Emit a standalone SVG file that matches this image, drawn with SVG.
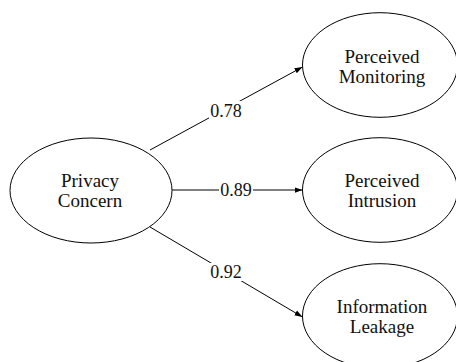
<svg xmlns="http://www.w3.org/2000/svg" width="456" height="362" viewBox="0 0 456 362">
<defs>
<style>
.node ellipse{fill:#fff;stroke:#000;stroke-width:1}
.node text{font-family:"Liberation Serif","Times New Roman",serif;font-size:19px;fill:#111;text-anchor:middle}
.edge line{stroke:#000;stroke-width:1;marker-end:url(#arrow)}
.lbl rect{fill:#fff}
.lbl text{font-family:"Liberation Serif","Times New Roman",serif;font-size:18px;fill:#111;text-anchor:middle}
</style>
<marker id="arrow" viewBox="0 0 10 10" refX="10" refY="5" markerWidth="8" markerHeight="8" markerUnits="userSpaceOnUse" orient="auto">
<path d="M0,1.5 L10,5 L0,8.5 z" fill="#000"/>
</marker>
</defs>
<rect width="456" height="362" fill="#fff"/>
<g id="connectors" class="edge">
<line x1="150" y1="150" x2="302.5" y2="67"/>
<line x1="171.5" y1="190" x2="302.5" y2="190"/>
<line x1="150" y1="227" x2="302.5" y2="317"/>
</g>
<g id="labels" class="lbl">
<rect x="209" y="101" width="34" height="18"/>
<text x="226" y="117">0.78</text>
<rect x="219" y="181" width="34" height="18"/>
<text x="236" y="196">0.89</text>
<rect x="209" y="263" width="34" height="18"/>
<text x="226" y="278">0.92</text>
</g>
<g id="privacy-concern" class="node">
<ellipse cx="91" cy="190.5" rx="81" ry="52.5"/>
<text x="90" y="187">Privacy</text>
<text x="90" y="207">Concern</text>
</g>
<g id="perceived-monitoring" class="node">
<ellipse cx="380" cy="65" rx="77.5" ry="52.3"/>
<text x="382" y="63">Perceived</text>
<text x="382" y="83">Monitoring</text>
</g>
<g id="perceived-intrusion" class="node">
<ellipse cx="380" cy="190" rx="77.5" ry="52.3"/>
<text x="382" y="187">Perceived</text>
<text x="382" y="207">Intrusion</text>
</g>
<g id="information-leakage" class="node">
<ellipse cx="380" cy="316" rx="77.5" ry="52.3"/>
<text x="382" y="313">Information</text>
<text x="382" y="333">Leakage</text>
</g>
</svg>
